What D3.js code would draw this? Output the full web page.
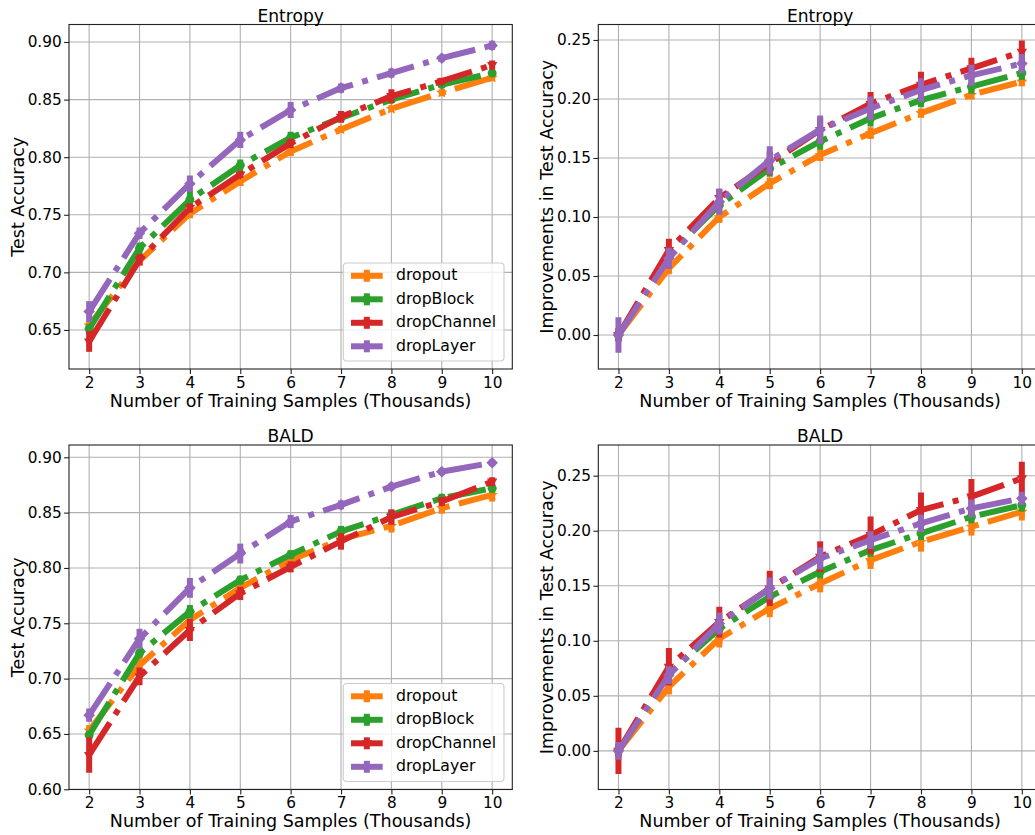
<!DOCTYPE html>
<html>
<head>
<meta charset="utf-8">
<script src="https://cdn.jsdelivr.net/npm/d3@7"></script>
<style>
  html, body { margin: 0; padding: 0; background: #fff; }
  svg { display: block; font-family: "DejaVu Sans", sans-serif; }
</style>
</head>
<body>
<svg id="fig" width="1035" height="835"></svg>
<script>
// ---------------- data ----------------
const xVals = [2, 3, 4, 5, 6, 7, 8, 9, 10];
const methods = ["dropout", "dropBlock", "dropChannel", "dropLayer"];
const colors = ["#ff7f0e", "#2ca02c", "#d62728", "#9467bd"];
const markers = ["star", "circle", "triangle", "diamond"];

const accTicks = [0.65, 0.70, 0.75, 0.80, 0.85, 0.90];
const baldAccTicks = [0.60, 0.65, 0.70, 0.75, 0.80, 0.85, 0.90];
const impTicks = [0.00, 0.05, 0.10, 0.15, 0.20, 0.25];

// Entropy – test accuracy (rows: dropout, dropBlock, dropChannel, dropLayer)
const entropyAcc = [
  [0.654, 0.710, 0.751, 0.779, 0.805, 0.824, 0.842, 0.856, 0.869],
  [0.651, 0.721, 0.763, 0.793, 0.817, 0.834, 0.850, 0.863, 0.873],
  [0.640, 0.711, 0.756, 0.785, 0.812, 0.835, 0.853, 0.866, 0.880],
  [0.666, 0.734, 0.777, 0.815, 0.841, 0.860, 0.873, 0.886, 0.897]
];
const entropyAccErr = [
  [0.004, 0.004, 0.004, 0.004, 0.004, 0.003, 0.003, 0.003, 0.003],
  [0.004, 0.005, 0.008, 0.005, 0.005, 0.003, 0.003, 0.003, 0.003],
  [0.009, 0.005, 0.004, 0.003, 0.004, 0.005, 0.006, 0.003, 0.004],
  [0.009, 0.005, 0.007, 0.007, 0.007, 0.004, 0.004, 0.003, 0.004]
];
// Entropy – improvements in test accuracy
const entropyImp = [
  [0.000, 0.0565, 0.100, 0.1285, 0.1525, 0.171, 0.188, 0.2035, 0.2147],
  [0.000, 0.068, 0.110, 0.141, 0.164, 0.1836, 0.199, 0.2105, 0.222],
  [0.000, 0.072, 0.116, 0.1455, 0.1737, 0.196, 0.212, 0.226, 0.240],
  [0.000, 0.065, 0.113, 0.148, 0.174, 0.192, 0.2076, 0.220, 0.230]
];
const entropyImpErr = [
  [0.006, 0.005, 0.005, 0.005, 0.005, 0.005, 0.004, 0.004, 0.004],
  [0.006, 0.006, 0.006, 0.007, 0.007, 0.007, 0.006, 0.006, 0.006],
  [0.005, 0.0095, 0.008, 0.010, 0.010, 0.010, 0.011, 0.009, 0.0095],
  [0.015, 0.009, 0.011, 0.012, 0.012, 0.010, 0.010, 0.009, 0.008]
];
// BALD – test accuracy
const baldAcc = [
  [0.653, 0.712, 0.753, 0.782, 0.807, 0.826, 0.838, 0.854, 0.866],
  [0.649, 0.723, 0.7605, 0.789, 0.812, 0.833, 0.848, 0.863, 0.872],
  [0.631, 0.702, 0.744, 0.777, 0.801, 0.824, 0.846, 0.860, 0.878],
  [0.667, 0.736, 0.782, 0.813, 0.842, 0.857, 0.8735, 0.887, 0.895]
];
const baldAccErr = [
  [0.005, 0.008, 0.006, 0.006, 0.005, 0.004, 0.006, 0.005, 0.006],
  [0.004, 0.004, 0.006, 0.004, 0.004, 0.005, 0.004, 0.004, 0.004],
  [0.016, 0.008, 0.010, 0.006, 0.005, 0.0075, 0.007, 0.004, 0.004],
  [0.006, 0.009, 0.009, 0.009, 0.006, 0.004, 0.003, 0.003, 0.003]
];
// BALD – improvements in test accuracy
const baldImp = [
  [0.000, 0.0582, 0.102, 0.1294, 0.152, 0.1733, 0.190, 0.2036, 0.2173],
  [0.000, 0.070, 0.111, 0.140, 0.1627, 0.1824, 0.1976, 0.2127, 0.2233],
  [0.000, 0.0764, 0.117, 0.1476, 0.1764, 0.196, 0.2188, 0.231, 0.2476],
  [0.000, 0.0688, 0.1158, 0.1476, 0.1748, 0.1915, 0.2067, 0.2203, 0.2294]
];
const baldImpErr = [
  [0.006, 0.007, 0.008, 0.008, 0.008, 0.008, 0.009, 0.008, 0.008],
  [0.006, 0.006, 0.006, 0.006, 0.006, 0.006, 0.006, 0.006, 0.006],
  [0.021, 0.017, 0.014, 0.016, 0.014, 0.017, 0.016, 0.016, 0.015],
  [0.008, 0.008, 0.010, 0.010, 0.010, 0.008, 0.008, 0.008, 0.006]
];

// ---------------- layout ----------------
const panels = [
  { title: "Entropy", ylabel: "Test Accuracy", vals: entropyAcc, errs: entropyAccErr,
    ydom: [0.6161, 0.9152], yticks: accTicks, legend: true,
    x0: 69, x1: 512.3, y0: 24.5, y1: 369 },
  { title: "Entropy", ylabel: "Improvements in Test Accuracy", vals: entropyImp, errs: entropyImpErr,
    ydom: [-0.0288, 0.2631], yticks: impTicks, legend: false,
    x0: 598.3, x1: 1042, y0: 24.5, y1: 369 },
  { title: "BALD", ylabel: "Test Accuracy", vals: baldAcc, errs: baldAccErr,
    ydom: [0.5998, 0.9111], yticks: baldAccTicks, legend: true,
    x0: 69, x1: 512.3, y0: 445, y1: 789.5 },
  { title: "BALD", ylabel: "Improvements in Test Accuracy", vals: baldImp, errs: baldImpErr,
    ydom: [-0.0351, 0.2779], yticks: impTicks, legend: false,
    x0: 598.3, x1: 1042, y0: 445, y1: 789.5 }
];

const LW = 6;
const dash = [6.4, 1.6, 1.0, 1.6].map(d => d * LW).join(",");

function markerPath(type) {
  const p = d3.path();
  if (type === "circle") {
    p.arc(0, 0, 4.5, 0, 2 * Math.PI);
  } else if (type === "diamond") {
    const r = 5.8;
    p.moveTo(0, -r); p.lineTo(r, 0); p.lineTo(0, r); p.lineTo(-r, 0); p.closePath();
  } else if (type === "triangle") {
    const r = 5.5;
    p.moveTo(0, r); p.lineTo(r * 0.95, -r * 0.55); p.lineTo(-r * 0.95, -r * 0.55); p.closePath();
  } else {
    const R = 6, r = 2.6;
    for (let i = 0; i < 10; i++) {
      const a = -Math.PI / 2 + i * Math.PI / 5;
      const rr = i % 2 === 0 ? R : r;
      const x = rr * Math.cos(a), y = rr * Math.sin(a);
      if (i === 0) p.moveTo(x, y); else p.lineTo(x, y);
    }
    p.closePath();
  }
  return p.toString();
}

const svg = d3.select("#fig");
const fmt = d3.format(".2f");

panels.forEach((P, pi) => {
  const x = d3.scaleLinear().domain([1.6, 10.4]).range([P.x0, P.x1]);
  const y = d3.scaleLinear().domain(P.ydom).range([P.y1, P.y0]);
  const g = svg.append("g");

  const clipId = "clip" + pi;
  g.append("clipPath").attr("id", clipId).append("rect")
    .attr("x", P.x0).attr("y", P.y0).attr("width", P.x1 - P.x0).attr("height", P.y1 - P.y0);

  // grid
  const grid = g.append("g");
  grid.selectAll(".gx").data(xVals).enter().append("line")
    .attr("x1", d => x(d)).attr("x2", d => x(d)).attr("y1", P.y0).attr("y2", P.y1)
    .attr("stroke", "#b0b0b0").attr("stroke-width", 1.1);
  grid.selectAll(".gy").data(P.yticks).enter().append("line")
    .attr("x1", P.x0).attr("x2", P.x1).attr("y1", d => y(d)).attr("y2", d => y(d))
    .attr("stroke", "#b0b0b0").attr("stroke-width", 1.1);

  // data
  const dataG = g.append("g").attr("clip-path", `url(#${clipId})`);
  const line = d3.line().x((d, i) => x(xVals[i])).y(d => y(d));
  P.vals.forEach((vals, si) => {
    const col = colors[si];
    dataG.append("path").datum(vals).attr("d", line)
      .attr("fill", "none").attr("stroke", col).attr("stroke-width", LW)
      .attr("stroke-dasharray", dash).attr("stroke-linecap", "butt").attr("stroke-linejoin", "round");
    dataG.selectAll(null).data(vals).enter().append("path")
      .attr("d", markerPath(markers[si]))
      .attr("transform", (d, i) => `translate(${x(xVals[i])},${y(d)})`)
      .attr("fill", col);
    dataG.selectAll(null).data(vals).enter().append("line")
      .attr("x1", (d, i) => x(xVals[i])).attr("x2", (d, i) => x(xVals[i]))
      .attr("y1", (d, i) => y(d - P.errs[si][i])).attr("y2", (d, i) => y(d + P.errs[si][i]))
      .attr("stroke", col).attr("stroke-width", LW);
  });

  // spines
  g.append("rect").attr("x", P.x0).attr("y", P.y0)
    .attr("width", P.x1 - P.x0).attr("height", P.y1 - P.y0)
    .attr("fill", "none").attr("stroke", "#222").attr("stroke-width", 1.1);

  // axes
  const xAxis = d3.axisBottom(x).tickValues(xVals).tickSize(4.9).tickPadding(3.2).tickFormat(d3.format("d"));
  const yAxis = d3.axisLeft(y).tickValues(P.yticks).tickSize(4.9).tickPadding(2.4).tickFormat(fmt);
  const gx = g.append("g").attr("transform", `translate(0,${P.y1})`).call(xAxis);
  const gy = g.append("g").attr("transform", `translate(${P.x0},0)`).call(yAxis);
  [gx, gy].forEach(a => {
    a.select(".domain").remove();
    a.selectAll(".tick line").attr("stroke", "#222").attr("stroke-width", 1.1);
    a.selectAll(".tick text").attr("fill", "#000").style("font-size", "15.3px")
      .style("font-family", "DejaVu Sans");
  });

  // title & labels
  const cx = (P.x0 + P.x1) / 2;
  g.append("text").attr("x", cx).attr("y", P.y0 - 3).attr("text-anchor", "middle")
    .style("font-size", "17.1px").text(P.title);
  g.append("text").attr("x", cx).attr("y", P.y1 + 37.5).attr("text-anchor", "middle")
    .style("font-size", "17.5px").text("Number of Training Samples (Thousands)");
  const ly = (P.y0 + P.y1) / 2;
  g.append("text").attr("transform", `translate(${P.x0 - 45},${ly}) rotate(-90)`)
    .attr("text-anchor", "middle").style("font-size", "17.5px").text(P.ylabel);

  // legend
  if (P.legend) {
    const lw = 160.7, lh = 98;
    const lx = P.x1 - 8.3 - lw, lyTop = P.y1 - 8 - lh;
    const lg = g.append("g");
    lg.append("rect").attr("x", lx).attr("y", lyTop).attr("width", lw).attr("height", lh)
      .attr("rx", 3.5).attr("fill", "#fff").attr("fill-opacity", 0.8)
      .attr("stroke", "#cccccc").attr("stroke-width", 1.1);
    methods.forEach((m, si) => {
      const cy = lyTop + 12.8 + si * 23.5;
      const hx0 = lx + 7.7, hx1 = lx + 39.4, hc = (hx0 + hx1) / 2;
      lg.append("line").attr("x1", hx0).attr("x2", hx1).attr("y1", cy).attr("y2", cy)
        .attr("stroke", colors[si]).attr("stroke-width", LW);
      lg.append("line").attr("x1", hc).attr("x2", hc).attr("y1", cy - 6).attr("y2", cy + 6)
        .attr("stroke", colors[si]).attr("stroke-width", LW);
      lg.append("path").attr("d", markerPath(markers[si]))
        .attr("transform", `translate(${hc},${cy})`).attr("fill", colors[si]);
      lg.append("text").attr("x", lx + 52.7).attr("y", cy + 4.3)
        .style("font-size", "15.7px").text(m);
    });
  }
});
</script>
</body>
</html>
